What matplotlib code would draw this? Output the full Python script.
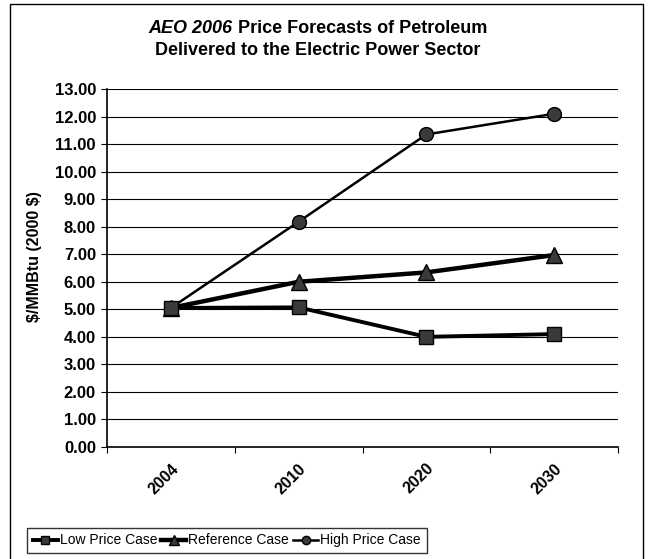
import matplotlib.pyplot as plt
from matplotlib.patches import Rectangle
from matplotlib.transforms import ScaledTranslation

plt.rcParams["font.family"] = ["Liberation Sans", "DejaVu Sans"]

years = ["2004", "2010", "2020", "2030"]
low_case = [5.05, 5.07, 4.00, 4.10]
reference_case = [5.05, 6.00, 6.34, 6.97]
high_case = [5.05, 8.18, 11.35, 12.10]

W, H = 649, 559
fig = plt.figure(figsize=(W / 100, H / 100), dpi=100)
ax = fig.add_axes([107 / W, 1 - 447 / H, 511 / W, 358 / H])

x = range(len(years))
ax.plot(x, low_case, color="black", lw=2.8, marker="s", ms=10,
        mfc="#3a3a3a", mec="black", label="Low Price Case", zorder=5)
ax.plot(x, reference_case, color="black", lw=3.2, marker="^", ms=11,
        mfc="#3a3a3a", mec="black", label="Reference Case", zorder=4)
ax.plot(x, high_case, color="black", lw=1.8, marker="o", ms=10,
        mfc="#3a3a3a", mec="black", label="High Price Case", zorder=3)

ax.set_xlim(-0.5, len(years) - 0.5)
ax.set_ylim(0, 13)
ax.set_yticks(range(0, 14))
ax.set_yticklabels(["%.2f" % v for v in range(0, 14)], fontsize=12, fontweight="bold")
ax.yaxis.grid(True, color="black", lw=0.8)
ax.set_axisbelow(True)

# tick marks on category boundaries, labels at the centres
ax.set_xticks([i - 0.5 for i in range(len(years) + 1)])
ax.set_xticklabels([])
ax.set_xticks(list(x), minor=True)
ax.set_xticklabels(years, minor=True, rotation=45, ha="right", va="top",
                   rotation_mode="anchor", fontsize=11.5, fontweight="bold")
shift = ScaledTranslation(-12 / 100, 0, fig.dpi_scale_trans)
for lab in ax.get_xticklabels(minor=True):
    lab.set_transform(lab.get_transform() + shift)
ax.tick_params(axis="x", which="minor", length=0, pad=10)
ax.tick_params(axis="x", which="major", length=4, direction="out")
ax.tick_params(axis="y", length=4, direction="out", pad=4)

for s in ["top", "right"]:
    ax.spines[s].set_visible(False)
ax.spines["left"].set_linewidth(1.2)
ax.spines["bottom"].set_linewidth(1.2)

fig.text(35 / W, 1 - 257 / H, "\\$/MMBtu (2000 \\$)", rotation=90, fontsize=11.5,
         fontweight="bold", ha="center", va="center")

# title, first words in italics
fig.canvas.draw()
r = fig.canvas.get_renderer()
cx = 318 / W
y1 = 1 - 33 / H
t_a = fig.text(0, y1, "AEO 2006", fontsize=13, fontweight="bold", style="italic", va="baseline")
t_b = fig.text(0, y1, " Price Forecasts of Petroleum", fontsize=13, fontweight="bold", va="baseline")
wa = t_a.get_window_extent(r).width / fig.bbox.width
wb = t_b.get_window_extent(r).width / fig.bbox.width
start = cx - (wa + wb) / 2
t_a.set_x(start)
t_b.set_x(start + wa)
fig.text(cx, 1 - 55 / H, "Delivered to the Electric Power Sector", fontsize=13,
         fontweight="bold", ha="center", va="baseline")

leg = fig.legend(loc="lower left", bbox_to_anchor=(27 / W, 1 - 553 / H), ncol=3,
                 fontsize=10, frameon=True, fancybox=False, edgecolor="black",
                 handlelength=1.8, handletextpad=0.15, columnspacing=0.3,
                 borderpad=0.4, markerscale=0.6, borderaxespad=0)
leg.get_frame().set_linewidth(1.0)

fig.patches.append(Rectangle((10 / W, -0.02), 633 / W, 1.02 - 4 / H,
                             transform=fig.transFigure, fill=False,
                             edgecolor="black", lw=1.0))

fig.savefig("out.png", dpi=100)
